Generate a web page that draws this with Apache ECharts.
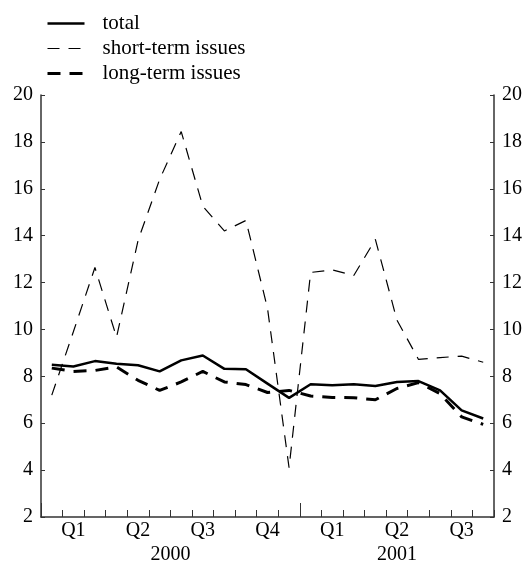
<!DOCTYPE html>
<html>
<head>
<meta charset="utf-8">
<script src="https://cdn.jsdelivr.net/npm/echarts@6/dist/echarts.min.js"></script>
<style>
  html, body { margin: 0; padding: 0; background: #fff; }
  #chart { width: 527px; height: 565px; }
</style>
</head>
<body>
<div id="chart"></div>
<script>
// monthly, Jan 2000 - Sep 2001
var months = ['2000-01', '2000-02', '2000-03', '2000-04', '2000-05', '2000-06',
  '2000-07', '2000-08', '2000-09', '2000-10', '2000-11', '2000-12',
  '2001-01', '2001-02', '2001-03', '2001-04', '2001-05', '2001-06',
  '2001-07', '2001-08', '2001-09']
var quarterLabels = ['', 'Q1', '', '', 'Q2', '', '', 'Q3', '', '', 'Q4', '',
  '', 'Q1', '', '', 'Q2', '', '', 'Q3', '']
// half-month grid used for year labels and the long ticks
var yearLabels = []
for (var k = 0; k <= 42; k++) yearLabels.push('')
yearLabels[12] = '2000'
yearLabels[33] = '2001'
var longTicks = [0, 24]

var total = [8.49, 8.42, 8.65, 8.54, 8.47, 8.21, 8.68, 8.89, 8.32, 8.30, 7.69, 7.08,
  7.66, 7.62, 7.66, 7.59, 7.76, 7.80, 7.40, 6.55, 6.20]
var shortTerm = [7.2, 9.9, 12.64, 9.67, 13.8, 16.4, 18.44, 15.26, 14.2, 14.65, 10.9, 4.1,
  12.43, 12.54, 12.3, 13.84, 10.4, 8.72, 8.8, 8.86, 8.6]
var longTerm = [8.35, 8.21, 8.25, 8.4, 7.83, 7.4, 7.76, 8.21, 7.76, 7.65, 7.31, 7.4,
  7.16, 7.1, 7.09, 7.0, 7.48, 7.73, 7.26, 6.27, 5.95]

var font = 'Liberation Serif, Times New Roman, serif'
var axisColor = '#333'

var totalStyle = { color: '#000', width: 2.5 }
var shortStyle = { color: '#000', width: 1.2, type: [12, 9] }
var longStyle = { color: '#000', width: 3, type: [13, 9] }

var chart = echarts.init(document.getElementById('chart'))

function yAx(pos) {
  return {
    type: 'value',
    position: pos,
    min: 2,
    max: 20,
    interval: 2,
    axisLine: { show: true, lineStyle: { color: axisColor, width: 1.5 } },
    axisTick: { show: true, inside: true, length: 4, lineStyle: { color: axisColor } },
    axisLabel: { color: '#000', fontFamily: font, fontSize: 20, margin: 8 },
    splitLine: { show: false }
  }
}

chart.setOption({
  backgroundColor: '#fff',
  animation: false,
  textStyle: { fontFamily: font },
  grid: { left: 41, right: 33, top: 95, bottom: 46, containLabel: false },
  legend: {
    orient: 'vertical',
    left: 41,
    top: 8,
    itemWidth: 37,
    itemHeight: 14,
    itemGap: 4,
    selectedMode: false,
    itemStyle: { opacity: 0 },
    textStyle: { color: '#000', fontFamily: font, fontSize: 21, lineHeight: 21, padding: [0, 0, 0, 13] },
    data: [
      { name: 'total', lineStyle: totalStyle },
      { name: 'short-term issues', lineStyle: shortStyle },
      { name: 'long-term issues', lineStyle: longStyle }
    ]
  },
  xAxis: [{
    type: 'category',
    data: months,
    boundaryGap: true,
    axisLine: { show: true, lineStyle: { color: axisColor, width: 1.5 } },
    axisTick: { show: true, inside: true, length: 7, interval: 0, lineStyle: { color: axisColor } },
    axisLabel: {
      interval: 0,
      color: '#000',
      fontFamily: font,
      fontSize: 20,
      margin: 4,
      formatter: function (v, i) { return quarterLabels[i] }
    },
    splitLine: { show: false }
  }, {
    type: 'category',
    data: yearLabels,
    boundaryGap: false,
    position: 'bottom',
    axisLine: { show: false },
    axisTick: {
      show: true,
      inside: true,
      length: 14,
      interval: function (i) { return longTicks.indexOf(i) >= 0 },
      lineStyle: { color: axisColor }
    },
    axisLabel: { interval: 0, color: '#000', fontFamily: font, fontSize: 20, margin: 28 },
    splitLine: { show: false }
  }],
  yAxis: [yAx('left'), yAx('right')],
  series: [{
    name: 'total',
    type: 'line',
    symbol: 'none',
    data: total,
    itemStyle: { color: '#000' },
    lineStyle: totalStyle
  }, {
    name: 'short-term issues',
    type: 'line',
    symbol: 'none',
    data: shortTerm,
    itemStyle: { color: '#000' },
    lineStyle: shortStyle
  }, {
    name: 'long-term issues',
    type: 'line',
    symbol: 'none',
    data: longTerm,
    itemStyle: { color: '#000' },
    lineStyle: longStyle
  }]
})
</script>
</body>
</html>
